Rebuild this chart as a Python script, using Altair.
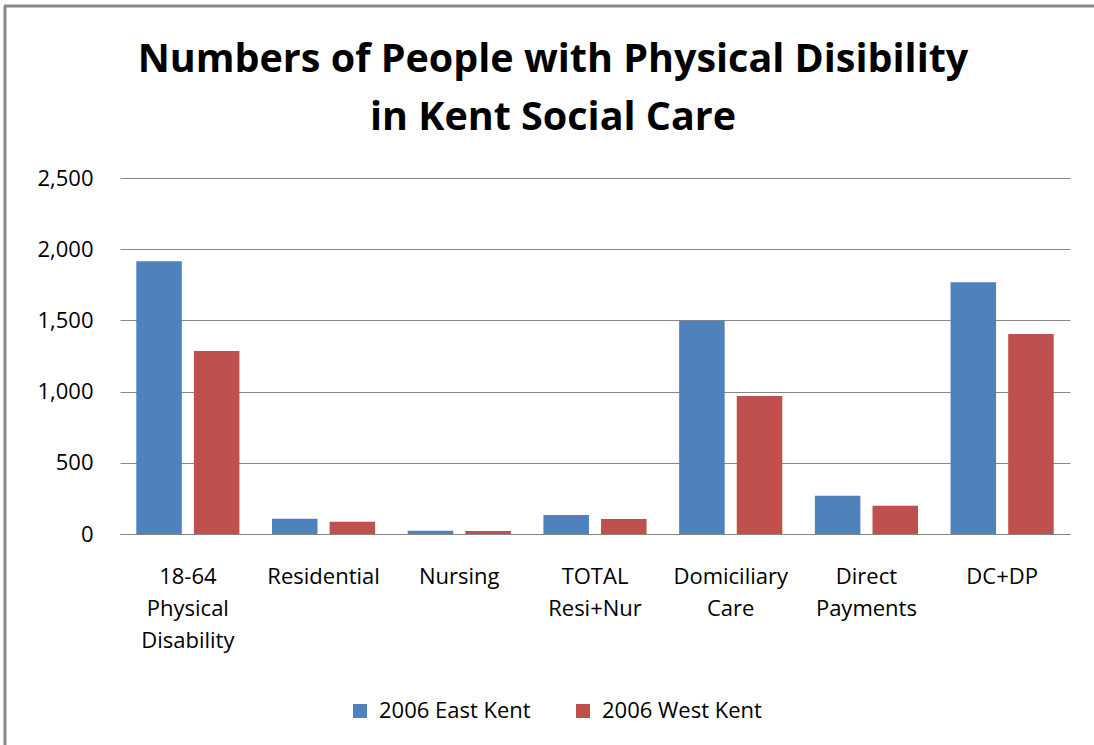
import altair as alt
import pandas as pd

categories = ["18-64|Physical|Disability", "Residential", "Nursing", "TOTAL|Resi+Nur",
              "Domiciliary|Care", "Direct|Payments", "DC+DP"]
series = ["2006 East Kent", "2006 West Kent"]
east = [1915, 107, 22, 133, 1497, 268, 1768]
west = [1285, 86, 21, 105, 969, 198, 1404]
colors = ["#4F81BD", "#C0504D"]
title_lines = ["Numbers of People with Physical Disibility", "in Kent Social Care"]

rows = []
for c, e, w in zip(categories, east, west):
    rows.append({"cat": c, "series": series[0], "value": e})
    rows.append({"cat": c, "series": series[1], "value": w})
df = pd.DataFrame(rows)

FONT = "Open Sans"
TFONT = "Open Sans"
FS = 22

bars = alt.Chart(df).mark_bar().encode(
    x=alt.X("cat:N", sort=categories, title=None,
            scale=alt.Scale(paddingInner=0.24, paddingOuter=0.12),
            axis=alt.Axis(labelExpr="split(datum.label, '|')", labelAngle=0,
                          ticks=False, labelPadding=32, labelFontSize=FS,
                          labelLineHeight=32, labelColor="#000000", labelFont=FONT,
                          domainColor="#868686", domainWidth=1, labelBaseline="top",
                          grid=False)),
    xOffset=alt.XOffset("series:N", sort=series, scale=alt.Scale(paddingInner=0.21)),
    y=alt.Y("value:Q", title=None,
            scale=alt.Scale(domain=[0, 2500], nice=False),
            axis=alt.Axis(values=[0, 500, 1000, 1500, 2000, 2500], format=",.0f",
                          ticks=False, domain=False, labelPadding=27, labelFontSize=FS,
                          labelColor="#000000", labelFont=FONT,
                          gridColor="#868686", gridWidth=1)),
    color=alt.Color("series:N", sort=series,
                    scale=alt.Scale(domain=series, range=colors),
                    legend=alt.Legend(title=None, orient="none", legendX=229, legendY=522,
                                      direction="horizontal", symbolType="square",
                                      symbolSize=196, symbolStrokeWidth=0,
                                      labelFontSize=FS, labelFont=FONT, labelColor="#000000",
                                      labelOffset=8, columnPadding=41)),
)

tdf = pd.DataFrame({"t": title_lines})
title1 = alt.Chart(tdf.iloc[[0]]).mark_text(
    font=TFONT, fontSize=39.5, fontWeight="bold", color="#000000",
    align="center", baseline="alphabetic").encode(
    text="t:N", x=alt.value(433), y=alt.value(-106))
title2 = alt.Chart(tdf.iloc[[1]]).mark_text(
    font=TFONT, fontSize=39.5, fontWeight="bold", color="#000000",
    align="center", baseline="alphabetic").encode(
    text="t:N", x=alt.value(433), y=alt.value(-48))

frame_df = pd.DataFrame({"a": [0]})
left_border = alt.Chart(frame_df).mark_rule(color="#878787", strokeWidth=3).encode(
    x=alt.value(-115), y=alt.value(-172), y2=alt.value(580))
top_border = alt.Chart(frame_df).mark_rule(color="#878787", strokeWidth=3).encode(
    x=alt.value(-116), x2=alt.value(1000), y=alt.value(-172))

chart = alt.layer(bars, title1, title2, left_border, top_border).properties(
    width=950, height=356,
    autosize=alt.AutoSizeParams(type="none"),
    padding={"left": 120, "top": 178, "right": 24, "bottom": 211},
).configure(background="#ffffff", view=alt.ViewConfig(stroke=None))

chart.save("out.html", embed_options={"renderer": "svg", "actions": False})
